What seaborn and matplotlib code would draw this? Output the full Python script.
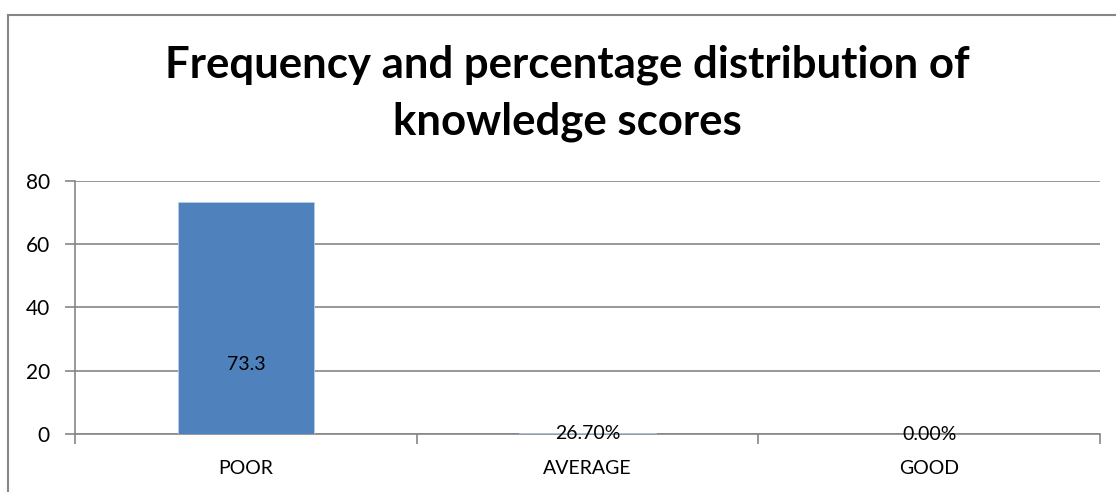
import matplotlib
matplotlib.use("Agg")
import matplotlib.pyplot as plt
import matplotlib.patches as mpatches
import seaborn as sns
import pandas as pd

# data
categories = ["POOR", "AVERAGE", "GOOD"]
values = [73.3, 0.267, 0.0]
value_labels = ["73.3", "26.70%", "0.00%"]

df = pd.DataFrame({"level": categories, "score": values})

sns.set_theme(style="white")
plt.rcParams["font.family"] = ["Lato", "DejaVu Sans"]

grey = "#868686"
fig = plt.figure(figsize=(11.16, 4.92), dpi=100)
ax = fig.add_axes([75 / 1116, 1 - 434 / 492, 1025 / 1116, 253 / 492])

sns.barplot(data=df, x="level", y="score", color="#4F81BD", width=0.4,
            saturation=1, edgecolor="#B9CDE5", linewidth=0.6, ax=ax, zorder=3)

ax.set_ylim(0, 80)
ax.set_xlim(-0.5, 2.5)
ax.set_yticks([0, 20, 40, 60, 80])
ax.yaxis.grid(True, color=grey, linewidth=1.2, zorder=0)
ax.set_axisbelow(True)
ax.set_xlabel("")
ax.set_ylabel("")

for s in ["top", "right"]:
    ax.spines[s].set_visible(False)
for s in ["left", "bottom"]:
    ax.spines[s].set_color(grey)
    ax.spines[s].set_linewidth(1.2)

ax.tick_params(axis="y", left=True, length=7, width=1.2, color=grey,
               labelsize=15, labelcolor="black", pad=11)
ax.tick_params(axis="x", bottom=False, length=0, labelsize=14, labelcolor="black", pad=19)
ax.set_xticks([-0.5, 0.5, 1.5, 2.5], minor=True)
ax.tick_params(axis="x", which="minor", bottom=True, length=7, width=1.2, color=grey)

# data labels (Excel puts them inside the bar)
for i, (v, lab) in enumerate(zip(values, value_labels)):
    ax.text(i, v * 0.3, lab, ha="center", va="center", fontsize=14, color="black", zorder=5)

fig.suptitle("Frequency and percentage distribution of\nknowledge scores",
             x=0.508, y=0.91, fontsize=31.5, fontweight="bold", color="black",
             linespacing=1.5)

# chart area border
frame = mpatches.Rectangle((8 / 1116, -0.2), 1.2, 1.2 - 15 / 492,
                           transform=fig.transFigure, fill=False,
                           edgecolor=grey, linewidth=1.5, clip_on=False)
fig.patches.append(frame)

fig.savefig("out.png", dpi=100)
